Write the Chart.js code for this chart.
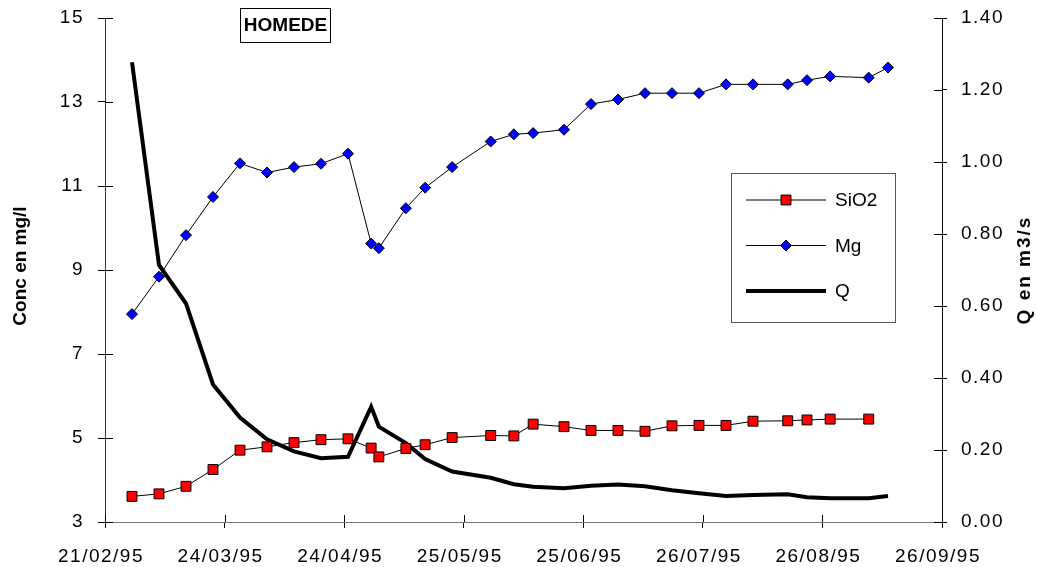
<!DOCTYPE html>
<html>
<head>
<meta charset="utf-8">
<script src="https://cdn.jsdelivr.net/npm/chart.js@4.4.0/dist/chart.umd.min.js"></script>
<style>
body { margin: 0; background: #fff; }
</style>
</head>
<body>
<canvas id="myChart" width="1037" height="567"></canvas>
<script>
// data
var chartTitle = 'HOMEDE';
var startDate = '21/02/95';
var tickLabels = ['21/02/95', '24/03/95', '24/04/95', '25/05/95', '25/06/95', '26/07/95', '26/08/95', '26/09/95'];
var sampleDates = ['28/02/95', '07/03/95', '14/03/95', '21/03/95', '28/03/95', '04/04/95', '11/04/95', '18/04/95',
  '25/04/95', '01/05/95', '03/05/95', '10/05/95', '15/05/95', '22/05/95', '01/06/95', '07/06/95', '12/06/95',
  '20/06/95', '27/06/95', '04/07/95', '11/07/95', '18/07/95', '25/07/95', '01/08/95', '08/08/95', '17/08/95',
  '22/08/95', '28/08/95', '07/09/95', '12/09/95'];
var sio2 = [3.61, 3.67, 3.85, 4.25, 4.71, 4.79, 4.89, 4.96, 4.98, 4.76, 4.55, 4.75, 4.84, 5.01, 5.06, 5.05, 5.33,
  5.27, 5.18, 5.18, 5.16, 5.29, 5.30, 5.30, 5.40, 5.41, 5.43, 5.45, 5.45, null];
var mg = [7.95, 8.84, 9.83, 10.74, 11.54, 11.32, 11.45, 11.53, 11.77, 9.63, 9.52, 10.47, 10.96, 11.45, 12.06, 12.23,
  12.26, 12.34, 12.95, 13.06, 13.21, 13.21, 13.21, 13.42, 13.42, 13.42, 13.52, 13.61, 13.58, 13.82];
var q = [1.277, 0.714, 0.607, 0.382, 0.29, 0.23, 0.196, 0.177, 0.181, 0.32, 0.265, 0.219, 0.175, 0.14, 0.123, 0.105,
  0.098, 0.094, 0.101, 0.104, 0.099, 0.088, 0.080, 0.072, 0.075, 0.077, 0.069, 0.066, 0.066, 0.072];

function dayNum(s) {
  var p = s.split('/');
  return Date.UTC(1900 + Number(p[2]), Number(p[1]) - 1, Number(p[0])) / 86400000;
}
var day0 = dayNum(startDate);

function toPoints(values) {
  var pts = [];
  for (let i = 0; i < sampleDates.length; i++) {
    if (values[i] == null) continue;
    pts.push({x: dayNum(sampleDates[i]) - day0, y: values[i]});
  }
  return pts;
}

var tickDays = tickLabels.map(l => dayNum(l) - day0);
var FONT = '"Liberation Sans", Arial, sans-serif';
Chart.defaults.font.family = FONT;
Chart.defaults.font.size = 19;
Chart.defaults.color = '#000';

// fix the plot box: left 105, right 942, top 18, bottom 522
function fixY(width) {
  return s => { s.width = width; s.paddingTop = 18; s.paddingBottom = 0; };
}

var extras = {
  id: 'extras',
  beforeDraw(chart) { chart.ctx.letterSpacing = '1.5px'; },
  beforeDatasetsDraw(chart) { chart.ctx.letterSpacing = '0px'; },
  afterDraw(chart) {
    var ctx = chart.ctx;
    var a = chart.chartArea;
    var sx = chart.scales.x, sy = chart.scales.y, sq = chart.scales.y2;
    ctx.save();
    ctx.letterSpacing = '0px';
    // inner halves of the tick marks
    ctx.strokeStyle = '#000';
    ctx.lineWidth = 1;
    ctx.beginPath();
    sx.ticks.forEach(t => {
      var p = Math.round(sx.getPixelForValue(t.value)) + 0.5;
      ctx.moveTo(p, a.bottom); ctx.lineTo(p, a.bottom - 7);
    });
    sy.ticks.forEach(t => {
      var p = Math.round(sy.getPixelForValue(t.value)) + 0.5;
      ctx.moveTo(a.left, p); ctx.lineTo(a.left + 8, p);
    });
    sq.ticks.forEach(t => {
      var p = Math.round(sq.getPixelForValue(t.value)) + 0.5;
      ctx.moveTo(a.right, p); ctx.lineTo(a.right - 8, p);
    });
    ctx.stroke();

    // axis titles
    ctx.fillStyle = '#000';
    ctx.textAlign = 'center';
    ctx.textBaseline = 'middle';
    ctx.font = 'bold 19px ' + FONT;
    ctx.save();
    ctx.translate(21, 266);
    ctx.rotate(-Math.PI / 2);
    ctx.fillText('Conc en mg/l', 0, 0);
    ctx.restore();
    ctx.save();
    ctx.translate(1025, 270);
    ctx.rotate(-Math.PI / 2);
    ctx.letterSpacing = '2px';
    ctx.fillText('Q en m3/s', 0, 0);
    ctx.restore();

    // title box
    ctx.fillStyle = '#fff';
    ctx.fillRect(240, 8, 90, 34);
    ctx.strokeStyle = '#000';
    ctx.strokeRect(240.5, 8.5, 90, 34);
    ctx.fillStyle = '#000';
    ctx.fillText(chartTitle, 285.5, 26);

    // legend
    ctx.fillStyle = '#fff';
    ctx.fillRect(731, 173, 164, 149);
    ctx.strokeStyle = '#555';
    ctx.strokeRect(731.5, 173.5, 164, 149);
    ctx.textAlign = 'left';
    chart.data.datasets.forEach((ds, i) => {
      var y = 200 + i * 45.5;
      ctx.strokeStyle = ds.borderColor;
      ctx.lineWidth = ds.borderWidth;
      ctx.beginPath();
      ctx.moveTo(746, y); ctx.lineTo(826, y);
      ctx.stroke();
      if (ds.pointRadius > 0) {
        ctx.fillStyle = ds.pointBackgroundColor;
        ctx.strokeStyle = ds.pointBorderColor;
        ctx.lineWidth = 1;
        Chart.helpers.drawPoint(ctx, {pointStyle: ds.pointStyle, radius: ds.pointRadius, rotation: 0, borderWidth: 1}, 786, y);
      }
      ctx.fillStyle = '#000';
      ctx.font = '19px ' + FONT;
      ctx.fillText(ds.label, 835, y + 1);
    });
    ctx.restore();
  }
};

new Chart('myChart', {
  type: 'line',
  data: {
    datasets: [{
      label: 'SiO2',
      data: toPoints(sio2),
      yAxisID: 'y',
      borderColor: '#000',
      borderWidth: 1,
      pointStyle: 'rect',
      pointRadius: 7,
      pointBackgroundColor: '#ff0000',
      pointBorderColor: '#000',
      pointBorderWidth: 1,
      tension: 0
    }, {
      label: 'Mg',
      data: toPoints(mg),
      yAxisID: 'y',
      borderColor: '#000',
      borderWidth: 1,
      pointStyle: 'rectRot',
      pointRadius: 5.5,
      pointBackgroundColor: '#0000ff',
      pointBorderColor: '#000',
      pointBorderWidth: 1,
      tension: 0
    }, {
      label: 'Q',
      data: toPoints(q),
      yAxisID: 'y2',
      borderColor: '#000',
      borderWidth: 4,
      pointRadius: 0,
      tension: 0
    }]
  },
  options: {
    responsive: false,
    animation: false,
    layout: {padding: {top: 18, left: 0, right: 0, bottom: 0}},
    plugins: {legend: {display: false}, tooltip: {enabled: false}},
    scales: {
      x: {
        type: 'linear',
        min: tickDays[0],
        max: tickDays[tickDays.length - 1],
        afterBuildTicks: s => { s.ticks = tickDays.map(v => ({value: v})); },
        afterFit: s => { s.height = 45; s.paddingLeft = 0; s.paddingRight = 0; },
        grid: {drawOnChartArea: false, tickLength: 6, color: '#000'},
        border: {color: '#777'},
        ticks: {
          padding: 17,
          labelOffset: -4,
          maxRotation: 0,
          autoSkip: false,
          callback: v => tickLabels[tickDays.indexOf(v)]
        }
      },
      y: {
        position: 'left',
        min: 3, max: 15,
        afterFit: fixY(105),
        grid: {drawOnChartArea: false, tickLength: 7, color: '#000'},
        border: {color: '#333'},
        ticks: {stepSize: 2, padding: 14}
      },
      y2: {
        position: 'right',
        min: 0, max: 1.4,
        afterFit: fixY(95),
        grid: {drawOnChartArea: false, tickLength: 5, color: '#000'},
        border: {color: '#000'},
        ticks: {stepSize: 0.2, padding: 14, callback: v => v.toFixed(2)}
      }
    }
  },
  plugins: [extras]
});
</script>
</body>
</html>
